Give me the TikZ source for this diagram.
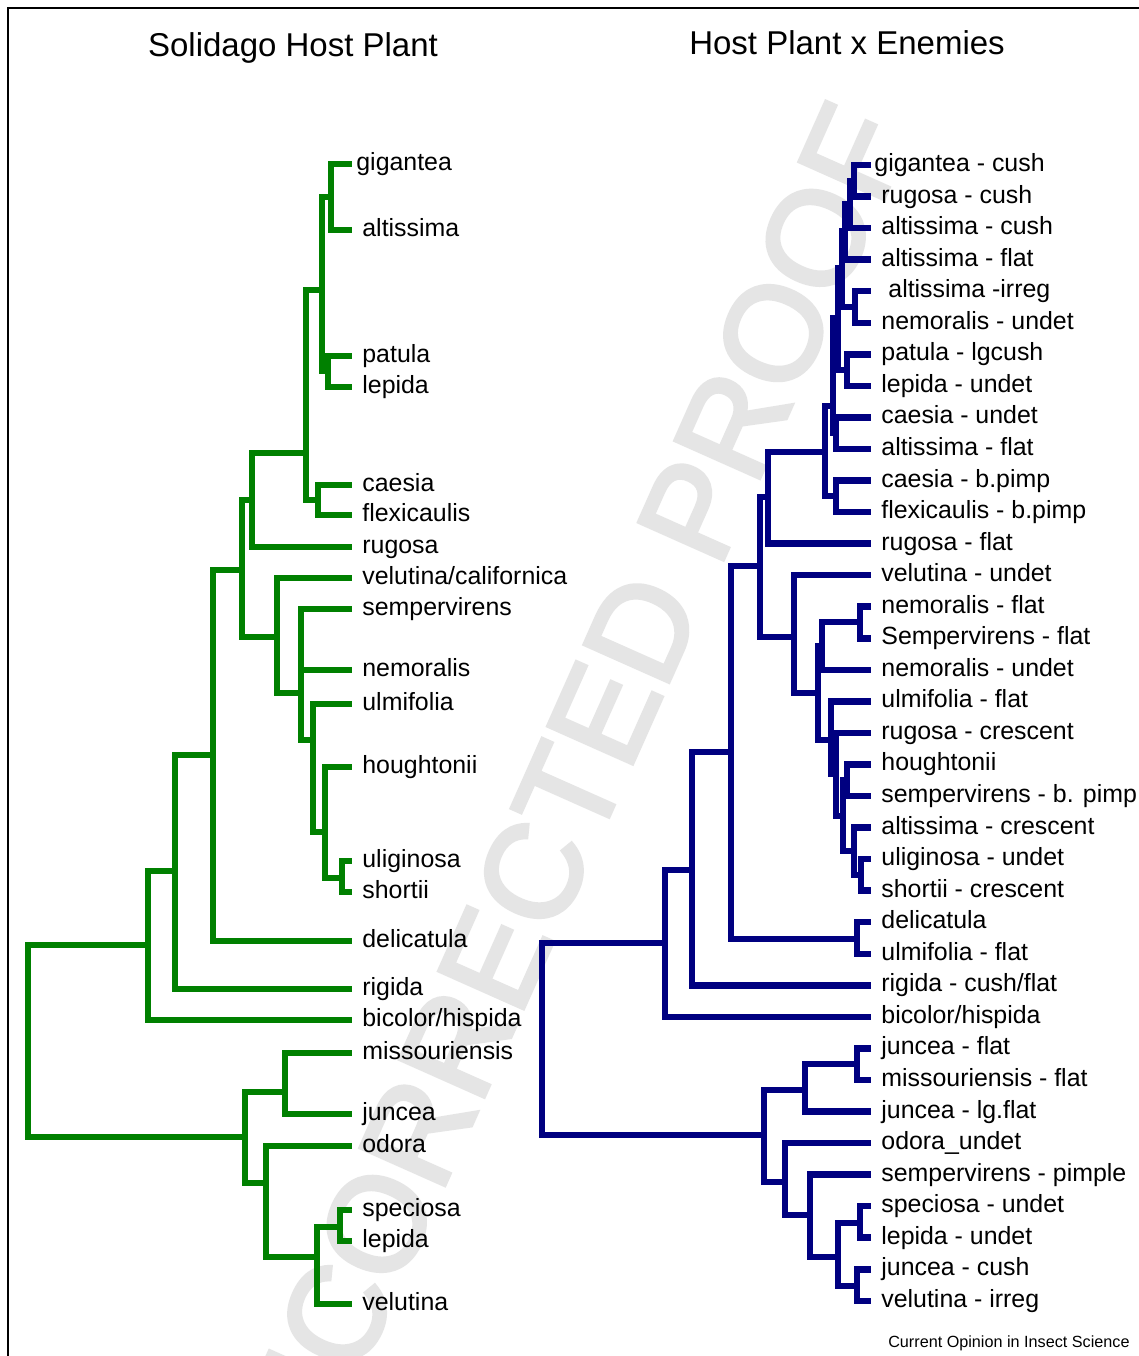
\documentclass[tikz,border=0pt]{standalone}
\usepackage{fontspec}
\setmainfont{Liberation Sans}
\newfontfamily\wmfont[FakeBold=3]{Liberation Sans}
\definecolor{treegreen}{RGB}{0,128,0}
\definecolor{treeblue}{RGB}{0,0,128}
\definecolor{wmgray}{RGB}{229,229,229}
\begin{document}
\begin{tikzpicture}[x=0.5pt,y=-0.5pt,
  gl/.style={draw=treegreen,line width=3.25pt},
  bl/.style={draw=treeblue,line width=3.25pt},
  lab/.style={anchor=base west,inner sep=0pt,font=\fontsize{12.45}{14}\selectfont},
  ttl/.style={anchor=base,inner sep=0pt,font=\fontsize{16.5}{19}\selectfont},
]
\useasboundingbox (0,0) rectangle (1139,1356);
\fill[white] (0,0) rectangle (1139,1356);
% watermark
\begin{scope}
\clip (0,0) rectangle (1139,1356);
\node[rotate=66,text=wmgray,inner sep=0pt,font=\wmfont\fontsize{67}{67}\selectfont] (wm) at (554,826) {UNCORRECTED PROOF};
\end{scope}
% frame
\coordinate (fa) at (8,1356);
\coordinate (fb) at (8,8);
\coordinate (fc) at (1139,8);
\draw[line width=0.7pt] (fa) -- (fb) -- (fc);
% titles
\node[ttl] (t1) at (293,56) {Solidago Host Plant};
\node[ttl] (t2) at (847,54) {Host Plant x Enemies};
\node[anchor=base east,inner sep=0pt,font=\fontsize{8.1}{9}\selectfont] (ft) at (1130,1347) {Current Opinion in Insect Science};

% ---------------- left tree ----------------
\coordinate (g1) at (352,164);
\coordinate (g2) at (352,230);
\coordinate (g3) at (352,356);
\coordinate (g4) at (352,387);
\coordinate (g5) at (352,485);
\coordinate (g6) at (352,515);
\coordinate (g7) at (352,547);
\coordinate (g8) at (352,578);
\coordinate (g9) at (352,609);
\coordinate (g10) at (352,670);
\coordinate (g11) at (352,704);
\coordinate (g12) at (352,767);
\coordinate (g13) at (352,861);
\coordinate (g14) at (352,892);
\coordinate (g15) at (352,941);
\coordinate (g16) at (352,989);
\coordinate (g17) at (352,1020);
\coordinate (g18) at (352,1053);
\coordinate (g19) at (352,1114);
\coordinate (g20) at (352,1146);
\coordinate (g21) at (352,1210);
\coordinate (g22) at (352,1241);
\coordinate (g23) at (352,1304);

\node[lab] (gt1) at (356,164+6.5) {gigantea};
\node[lab] (gt2) at (362,230+6.5) {altissima};
\node[lab] (gt3) at (362,356+6.5) {patula};
\node[lab] (gt4) at (362,387+6.5) {lepida};
\node[lab] (gt5) at (362,485+6.5) {caesia};
\node[lab] (gt6) at (362,515+6.5) {flexicaulis};
\node[lab] (gt7) at (362,547+6.5) {rugosa};
\node[lab] (gt8) at (362,578+6.5) {velutina/californica};
\node[lab] (gt9) at (362,609+6.5) {sempervirens};
\node[lab] (gt10) at (362,670+6.5) {nemoralis};
\node[lab] (gt11) at (362,704+6.5) {ulmifolia};
\node[lab] (gt12) at (362,767+6.5) {houghtonii};
\node[lab] (gt13) at (362,861+6.5) {uliginosa};
\node[lab] (gt14) at (362,892+6.5) {shortii};
\node[lab] (gt15) at (362,941+6.5) {delicatula};
\node[lab] (gt16) at (362,989+6.5) {rigida};
\node[lab] (gt17) at (362,1020+6.5) {bicolor/hispida};
\node[lab] (gt18) at (362,1053+6.5) {missouriensis};
\node[lab] (gt19) at (362,1114+6.5) {juncea};
\node[lab] (gt20) at (362,1146+6.5) {odora};
\node[lab] (gt21) at (362,1210+6.5) {speciosa};
\node[lab] (gt22) at (362,1241+6.5) {lepida};
\node[lab] (gt23) at (362,1304+6.5) {velutina};

\coordinate (gA) at (331,197);
\coordinate (gB) at (328,371);
\coordinate (gC) at (322,290);
\coordinate (gD) at (318,500);
\coordinate (gE) at (306,453);
\coordinate (gF) at (252,500);
\coordinate (gK) at (342,878);
\coordinate (gJ) at (325,832);
\coordinate (gI) at (313,740);
\coordinate (gH) at (301,693);
\coordinate (gG) at (277,637);
\coordinate (gFF) at (242,570);
\coordinate (gL) at (213,755);
\coordinate (gM) at (175,871);
\coordinate (gN) at (148,945);
\coordinate (gO) at (285,1092);
\coordinate (gP) at (340,1227);
\coordinate (gQ) at (317,1257);
\coordinate (gR) at (266,1183);
\coordinate (gS) at (245,1137);
\coordinate (gRoot) at (28,1041);

\draw[gl] (gA) |- (g1) (gA) |- (g2);
\draw[gl] (gB) |- (g3) (gB) |- (g4);
\draw[gl] (gC) |- (gA) (gC) |- (gB);
\draw[gl] (gD) |- (g5) (gD) |- (g6);
\draw[gl] (gE) |- (gC) (gE) |- (gD);
\draw[gl] (gF) |- (gE) (gF) |- (g7);
\draw[gl] (gK) |- (g13) (gK) |- (g14);
\draw[gl] (gJ) |- (g12) (gJ) |- (gK);
\draw[gl] (gI) |- (g11) (gI) |- (gJ);
\draw[gl] (gH) |- (g9) (gH) |- (g10) (gH) |- (gI);
\draw[gl] (gG) |- (g8) (gG) |- (gH);
\draw[gl] (gFF) |- (gF) (gFF) |- (gG);
\draw[gl] (gL) |- (gFF) (gL) |- (g15);
\draw[gl] (gM) |- (gL) (gM) |- (g16);
\draw[gl] (gN) |- (gM) (gN) |- (g17);
\draw[gl] (gO) |- (g18) (gO) |- (g19);
\draw[gl] (gP) |- (g21) (gP) |- (g22);
\draw[gl] (gQ) |- (gP) (gQ) |- (g23);
\draw[gl] (gR) |- (g20) (gR) |- (gQ);
\draw[gl] (gS) |- (gO) (gS) |- (gR);
\draw[gl] (gRoot) |- (gN) (gRoot) |- (gS);

% ---------------- right tree ----------------
\foreach \i in {1,...,37}{
  \coordinate (b\i) at (871,{165+31.55*(\i-1)});
}
\newcommand{\blab}[3]{\node[lab] (bt#1) at (#2,{165+31.55*(#1-1)+6.5}) {#3};}
\blab{1}{874}{gigantea - cush}
\blab{2}{881}{rugosa - cush}
\blab{3}{881}{altissima - cush}
\blab{4}{881}{altissima - flat}
\blab{5}{888}{altissima -irreg}
\blab{6}{881}{nemoralis - undet}
\blab{7}{881}{patula - lgcush}
\blab{8}{881}{lepida - undet}
\blab{9}{881}{caesia - undet}
\blab{10}{881}{altissima - flat}
\blab{11}{881}{caesia - b.pimp}
\blab{12}{881}{flexicaulis - b.pimp}
\blab{13}{881}{rugosa - flat}
\blab{14}{881}{velutina - undet}
\blab{15}{881}{nemoralis - flat}
\blab{16}{881}{Sempervirens - flat}
\blab{17}{881}{nemoralis - undet}
\blab{18}{881}{ulmifolia - flat}
\blab{19}{881}{rugosa - crescent}
\blab{20}{881}{houghtonii}
\blab{21}{881}{sempervirens - b. pimp}
\blab{22}{881}{altissima - crescent}
\blab{23}{881}{uliginosa - undet}
\blab{24}{881}{shortii - crescent}
\blab{25}{881}{delicatula}
\blab{26}{881}{ulmifolia - flat}
\blab{27}{881}{rigida - cush/flat}
\blab{28}{881}{bicolor/hispida}
\blab{29}{881}{juncea - flat}
\blab{30}{881}{missouriensis - flat}
\blab{31}{881}{juncea - lg.flat}
\blab{32}{881}{odora\_undet}
\blab{33}{881}{sempervirens - pimple}
\blab{34}{881}{speciosa - undet}
\blab{35}{881}{lepida - undet}
\blab{36}{881}{juncea - cush}
\blab{37}{881}{velutina - irreg}

\coordinate (u1) at (854,181);
\coordinate (u2) at (850,204);
\coordinate (u3) at (845,231);
\coordinate (u4) at (855,307);
\coordinate (u5) at (842,268);
\coordinate (u6) at (847,370);
\coordinate (u7) at (838,318);
\coordinate (uw) at (836,433);
\coordinate (u9) at (833,406);
\coordinate (u10) at (836,496);
\coordinate (u11) at (825,452);
\coordinate (uU) at (768,497);
\coordinate (v1) at (860,622);
\coordinate (v2) at (822,646);
\coordinate (v0) at (861,875);
\coordinate (v5) at (854,851);
\coordinate (v4) at (847,780);
\coordinate (v7) at (843,816);
\coordinate (v8) at (836,774);
\coordinate (v6) at (831,740);
\coordinate (v3) at (818,693);
\coordinate (n8) at (794,637);
\coordinate (n9) at (760,566);
\coordinate (dq) at (857,939);
\coordinate (n10) at (731,752);
\coordinate (n11) at (692,870);
\coordinate (n12) at (665,943);
\coordinate (jm) at (857,1064);
\coordinate (jo) at (805,1090);
\coordinate (sl) at (860,1223);
\coordinate (jv) at (857,1286);
\coordinate (sj) at (838,1257);
\coordinate (ss) at (810,1215);
\coordinate (os) at (785,1182);
\coordinate (lo) at (764,1135);
\coordinate (bRoot) at (542,1040);

\draw[bl] (u1) |- (b1) (u1) |- (b2);
\draw[bl] (u2) |- (u1) (u2) |- (b3);
\draw[bl] (u3) |- (u2) (u3) |- (b4);
\draw[bl] (u4) |- (b5) (u4) |- (b6);
\draw[bl] (u5) |- (u3) (u5) |- (u4);
\draw[bl] (u6) |- (b7) (u6) |- (b8);
\draw[bl] (u7) |- (u5) (u7) |- (u6);
\draw[bl] (uw) |- (b9) (uw) |- (b10);
\draw[bl] (u9) |- (u7) (u9) |- (uw);
\draw[bl] (u10) |- (b11) (u10) |- (b12);
\draw[bl] (u11) |- (u9) (u11) |- (u10);
\draw[bl] (uU) |- (u11) (uU) |- (b13);
\draw[bl] (v1) |- (b15) (v1) |- (b16);
\draw[bl] (v2) |- (v1) (v2) |- (b17);
\draw[bl] (v0) |- (b23) (v0) |- (b24);
\draw[bl] (v5) |- (b22) (v5) |- (v0);
\draw[bl] (v4) |- (b20) (v4) |- (b21);
\draw[bl] (v7) |- (v4) (v7) |- (v5);
\draw[bl] (v8) |- (b19) (v8) |- (v7);
\draw[bl] (v6) |- (b18) (v6) |- (v8);
\draw[bl] (v3) |- (v2) (v3) |- (v6);
\draw[bl] (n8) |- (b14) (n8) |- (v3);
\draw[bl] (n9) |- (uU) (n9) |- (n8);
\draw[bl] (dq) |- (b25) (dq) |- (b26);
\draw[bl] (n10) |- (n9) (n10) |- (dq);
\draw[bl] (n11) |- (n10) (n11) |- (b27);
\draw[bl] (n12) |- (n11) (n12) |- (b28);
\draw[bl] (jm) |- (b29) (jm) |- (b30);
\draw[bl] (jo) |- (jm) (jo) |- (b31);
\draw[bl] (sl) |- (b34) (sl) |- (b35);
\draw[bl] (jv) |- (b36) (jv) |- (b37);
\draw[bl] (sj) |- (sl) (sj) |- (jv);
\draw[bl] (ss) |- (b33) (ss) |- (sj);
\draw[bl] (os) |- (b32) (os) |- (ss);
\draw[bl] (lo) |- (jo) (lo) |- (os);
\draw[bl] (bRoot) |- (n12) (bRoot) |- (lo);
\end{tikzpicture}
\end{document}
